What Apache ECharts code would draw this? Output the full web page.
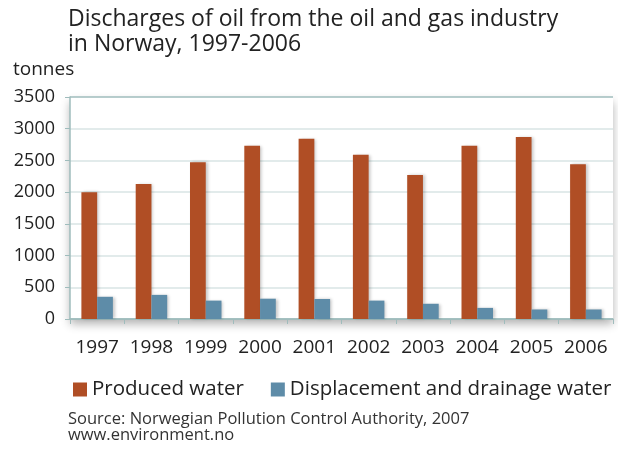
<!DOCTYPE html>
<html>
<head>
<meta charset="utf-8">
<script src="https://cdn.jsdelivr.net/npm/echarts@6/dist/echarts.min.js"></script>
<style>
  html, body { margin: 0; padding: 0; background: #fff; }
  #main { width: 618px; height: 449px; }
</style>
</head>
<body>
<div id="main"></div>
<script>
var years = ['1997', '1998', '1999', '2000', '2001', '2002', '2003', '2004', '2005', '2006'];
var producedWater = [2000, 2130, 2470, 2730, 2840, 2590, 2270, 2730, 2870, 2440];
var displacementWater = [350, 380, 290, 320, 315, 290, 240, 175, 150, 150];
var yTicks = [0, 500, 1000, 1500, 2000, 2500, 3000, 3500];

var font = 'Open Sans';
var axisColor = '#9fbcbc';
var gridColor = '#d8e4e4';

var myChart = echarts.init(document.getElementById('main'));

var barShadow = {
    shadowColor: 'rgba(0,0,0,0.22)',
    shadowBlur: 3,
    shadowOffsetX: 2,
    shadowOffsetY: 0
};

myChart.setOption({
    animation: false,
    backgroundColor: '#fff',
    title: {
        text: 'Discharges of oil from the oil and gas industry\nin Norway, 1997-2006',
        left: 63,
        top: 2,
        textStyle: { fontFamily: font, fontSize: 23, fontWeight: 'normal', color: '#222', lineHeight: 25 }
    },
    graphic: [
        { type: 'text', left: 13, top: 60, style: { text: 'tonnes', font: '19px ' + font, fill: '#222' } },
        { type: 'text', left: 68, top: 411, style: { text: 'Source: Norwegian Pollution Control Authority, 2007\nwww.environment.no', font: '16.5px ' + font, fill: '#333', lineHeight: 16 } }
    ],
    legend: {
        left: 68,
        top: 374,
        icon: 'rect',
        itemWidth: 14,
        itemHeight: 14,
        itemGap: 27,
        textStyle: { fontFamily: font, fontSize: 20.5, color: '#222' },
        data: ['Produced water', 'Displacement and drainage water']
    },
    grid: {
        left: 70,
        right: 5,
        top: 97,
        bottom: 130,
        show: true,
        borderWidth: 0,
        backgroundColor: '#fff',
        shadowColor: 'rgba(0,0,0,0.3)',
        shadowBlur: 9,
        shadowOffsetY: 5
    },
    xAxis: {
        type: 'category',
        data: years,
        axisLine: { lineStyle: { color: axisColor, width: 1.5 } },
        axisTick: { show: true, length: 5, lineStyle: { color: axisColor } },
        axisLabel: { interval: 0, fontFamily: font, fontSize: 19, color: '#222', margin: 19 }
    },
    yAxis: {
        type: 'value',
        min: 0,
        max: 3500,
        interval: 500,
        axisLine: { show: true, lineStyle: { color: axisColor, width: 1.5 } },
        axisTick: { show: true, length: 5, lineStyle: { color: axisColor } },
        axisLabel: {
            fontFamily: font, fontSize: 18, color: '#222', margin: 15,
            formatter: function (v) { return yTicks.indexOf(v) >= 0 ? String(v) : ''; }
        },
        splitLine: {
            lineStyle: {
                color: [axisColor, gridColor, gridColor, gridColor, gridColor, gridColor, gridColor, axisColor],
                width: 1.5
            }
        }
    },
    series: [
        {
            name: 'Produced water',
            type: 'bar',
            data: producedWater,
            barGap: 0,
            barCategoryGap: '42%',
            itemStyle: Object.assign({ color: '#b04e25' }, barShadow)
        },
        {
            name: 'Displacement and drainage water',
            type: 'bar',
            data: displacementWater,
            itemStyle: Object.assign({ color: '#5e8ca8' }, barShadow)
        }
    ]
});
</script>
</body>
</html>
